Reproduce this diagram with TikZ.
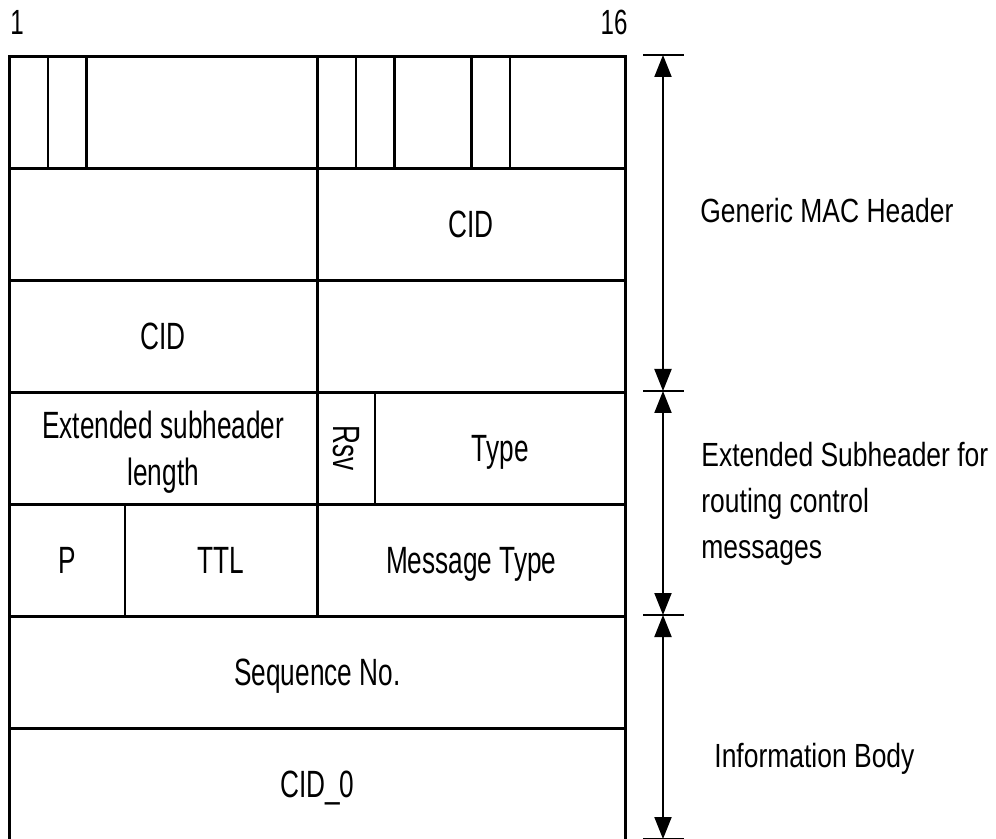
\documentclass[tikz,border=0pt]{standalone}
\usepackage{fontspec}
\setmainfont{Liberation Sans}[FakeStretch=0.79]
\newfontfamily\narrowfont{Liberation Sans}[FakeStretch=0.69]
\usetikzlibrary{arrows.meta}

\begin{document}
\begin{tikzpicture}[x = 0.5pt, y = -0.5pt,
font = \fontsize{16.75}{23}\selectfont,
Bits/.style = {minimum width = #1*19.25pt}]
\tikzstyle{FieldStyle}=[
shape = rectangle,
anchor = north west,
minimum height = 56pt,
inner sep = 0pt,
text depth = 0pt,
align = center,
font = \narrowfont\fontsize{19}{23.5}\selectfont,
line width = 1.3pt,
draw]
\tikzstyle{BitNoStyle}=[inner sep = 0pt, font = \narrowfont\fontsize{17.5}{20}\selectfont]
\tikzstyle{LabelStyle}=[anchor = base west, inner sep = 0pt, align = left]
\tikzstyle{TickStyle}=[line width = 1.4pt]
\tikzstyle{DimStyle}=[line width = 1pt, {Triangle[length = 11pt, width = 8.5pt]}-{Triangle[length = 11pt, width = 8.5pt]}]
\useasboundingbox (0, 0) rectangle (996, 839);
% bit numbers
\node[BitNoStyle, anchor = base west] (b1) at (10, 35) {1};
\node[BitNoStyle, anchor = base east] (b16) at (628, 35) {16};
% generic MAC header
\node[FieldStyle, Bits = 1] (r1a) at (8, 55) {};
\node[FieldStyle, Bits = 1] (r1b) at (46.5, 55) {};
\node[FieldStyle, Bits = 6] (r1c) at (85, 55) {};
\node[FieldStyle, Bits = 1] (r1d) at (316, 55) {};
\node[FieldStyle, Bits = 1] (r1e) at (354.5, 55) {};
\node[FieldStyle, Bits = 2] (r1f) at (393, 55) {};
\node[FieldStyle, Bits = 1] (r1g) at (470, 55) {};
\node[FieldStyle, Bits = 3] (r1h) at (508.5, 55) {};
\node[FieldStyle, Bits = 8] (r2a) at (8, 167) {};
\node[FieldStyle, Bits = 8] (r2b) at (316, 167) {CID};
\node[FieldStyle, Bits = 8] (r3a) at (8, 279) {CID};
\node[FieldStyle, Bits = 8] (r3b) at (316, 279) {};
% extended subheader
\node[FieldStyle, Bits = 8] (r4a) at (8, 391) {Extended subheader\\length};
\node[FieldStyle, Bits = 1.5, text depth = {}] (r4b) at (316, 391) {\rotatebox{-90}{Rsv}};
\node[FieldStyle, Bits = 6.5] (r4c) at (373.75, 391) {Type};
\node[FieldStyle, Bits = 3] (r5a) at (8, 503) {P};
\node[FieldStyle, Bits = 5] (r5b) at (123.5, 503) {TTL};
\node[FieldStyle, Bits = 8] (r5c) at (316, 503) {Message Type};
% information body
\node[FieldStyle, Bits = 16] (r6a) at (8, 615) {Sequence No.};
\node[FieldStyle, Bits = 16] (r7a) at (8, 727) {CID\_0};
% dimension lines
\coordinate (d0) at (663, 55);
\coordinate (d1) at (663, 391);
\coordinate (d2) at (663, 615);
\coordinate (d3) at (663, 839);
\draw[TickStyle] ([xshift = -10pt]d0) -- ([xshift = 10.5pt]d0);
\draw[TickStyle] ([xshift = -10pt]d1) -- ([xshift = 10.5pt]d1);
\draw[TickStyle] ([xshift = -10pt]d2) -- ([xshift = 10.5pt]d2);
\draw[TickStyle] ([xshift = -10pt]d3) -- ([xshift = 10.5pt]d3);
\draw[DimStyle] (d0) -- (d1);
\draw[DimStyle] (d1) -- (d2);
\draw[DimStyle] (d2) -- (d3);
\node[LabelStyle] (gmh) at (700, 223) {Generic MAC Header};
\node[LabelStyle] (esh) at (701, 558) {Extended Subheader for\\routing control\\messages};
\node[LabelStyle] (ib) at (714, 767) {Information Body};
\end{tikzpicture}
\end{document}
